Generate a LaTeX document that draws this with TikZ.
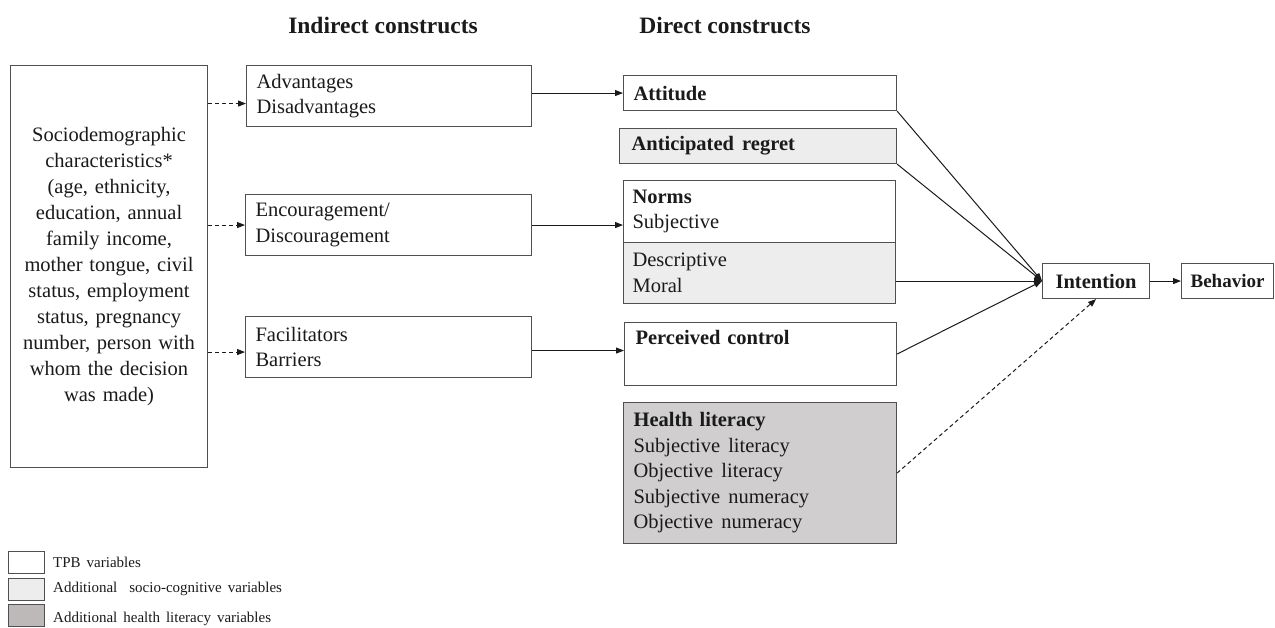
\documentclass[tikz,border=0pt]{standalone}
\usepackage{fontspec}
\setmainfont{Liberation Serif}
\usetikzlibrary{arrows.meta}
\definecolor{lg}{HTML}{EDEDED}
\definecolor{mg}{HTML}{D0CECE}
\definecolor{dg}{HTML}{BDB9B9}
\definecolor{ln}{HTML}{505050}
\definecolor{tx}{HTML}{1A1A1A}
\newcommand{\wsp}{\hspace{0.4em}}
\begin{document}
\begin{tikzpicture}[x=1pt,y=-1pt,
  box/.style={draw=ln, line width=1.1pt, rectangle, anchor=north west, inner xsep=10pt, inner ysep=0pt,
    align=left, font=\fontsize{20.5}{25.5}\selectfont, text=tx},
  cbox/.style={draw=ln, line width=1.1pt, rectangle, anchor=north west, inner sep=0pt, align=center,
    font=\fontsize{20.5}{25}\selectfont\bfseries, text=tx},
  head/.style={font=\fontsize{23.5}{28}\selectfont\bfseries, text=tx},
  legbox/.style={draw=ln, line width=1pt, rectangle, anchor=north west, minimum width=36pt, minimum height=22pt, inner sep=0pt},
  legtext/.style={anchor=west, inner sep=0pt, font=\fontsize{15}{16}\selectfont, text=tx},
  arr/.style={draw=tx, line width=1pt, -{Triangle[length=8pt,width=6pt]}},
  darr/.style={draw=tx, line width=1pt, dash pattern=on 4pt off 3pt, -{Triangle[length=8pt,width=6pt]}},
]
\useasboundingbox (0,0) rectangle (1275,628);

% headers
\node[head] (hind) at (383,25) {Indirect constructs};
\node[head] (hdir) at (725,25) {Direct constructs};

% sociodemographic
\node[draw=ln, line width=1.1pt, rectangle, anchor=north west, minimum width=197pt, minimum height=402pt,
  text width=185pt, inner sep=0pt, align=center, font=\fontsize{20.5}{26}\selectfont, text=tx] (socio) at (10,65)
  {Sociodemographic\\characteristics*\\(age, ethnicity,\\education, annual\\family income,\\mother tongue, civil\\status, employment\\status, pregnancy\\number, person with\\whom the decision\\was made)};

% indirect
\node[box, minimum width=285pt, text width=265pt, minimum height=61pt] (adv) at (246,65) {Advantages\\Disadvantages};
\node[box, minimum width=286pt, text width=266pt, minimum height=61pt] (enc) at (245,194) {Encouragement/\\Discouragement};
\node[box, minimum width=286pt, text width=266pt, minimum height=61pt] (fac) at (245,316) {Facilitators\\Barriers};

% direct
\node[box, minimum width=273pt, text width=253pt, minimum height=35pt] (att) at (623,75) {\textbf{Attitude}};
\node[box, fill=lg, minimum width=277pt, text width=253pt, minimum height=35pt, inner xsep=12pt] (ar) at (619,128) {\textbf{Anticipated\wsp regret}};
\node[box, minimum width=272pt, text width=254pt, minimum height=62pt, inner xsep=9pt] (norms) at (623,180) {\textbf{Norms}\\Subjective};
\node[box, fill=lg, minimum width=272pt, text width=254pt, minimum height=61pt, inner xsep=9pt] (normslow) at (623,242) {Descriptive\\Moral};
\node[box, minimum width=272pt, text width=250pt, minimum height=63pt, inner xsep=11pt] (pc) at (624,322) {\textbf{Perceived control}\\\strut};
\node[box, fill=mg, minimum width=273pt, text width=253pt, minimum height=141pt] (hl) at (623,402)
  {\textbf{Health literacy}\\Subjective\wsp literacy\\Objective\wsp literacy\\Subjective\wsp numeracy\\Objective\wsp numeracy};

% outcome
\node[cbox, minimum width=107pt, minimum height=35pt] (int) at (1042,263) {Intention};
\node[cbox, minimum width=92pt, minimum height=35pt, font=\fontsize{19}{23}\selectfont\bfseries] (beh) at (1181,263) {Behavior};

% legend
\node[legbox] (l1) at (8,551) {};
\node[legbox, fill=lg] (l2) at (8,578) {};
\node[legbox, fill=dg] (l3) at (8,604) {};
\node[legtext] (t1) at (53,562) {TPB\wsp variables};
\node[legtext] (t2) at (53,589) {Additional\hspace{0.8em}socio-cognitive\wsp variables};
\node[legtext] (t3) at (53,619) {Additional\wsp health\wsp literacy\wsp variables};

% dashed arrows from sociodemographics
\coordinate (a1) at ([yshift=-7.5pt]adv.west);
\coordinate (a3) at ([yshift=-5pt]fac.west);
\draw[darr] (socio.east |- a1) -- (a1);
\draw[darr] (socio.east |- enc.west) -- (enc.west);
\draw[darr] (socio.east |- a3) -- (a3);

% indirect to direct
\draw[arr] (adv.east |- att.west) -- (att.west);
\draw[arr] (enc.east) -- (norms.west |- enc.east);
\coordinate (f1) at ([yshift=-3.5pt]fac.east);
\draw[arr] (f1) -- (pc.west |- f1);

% direct to intention
\draw[arr] (att.south east) -- (int.west);
\draw[arr] (ar.south east) -- (int.west);
\draw[arr] (normslow.east |- int.west) -- (int.west);
\draw[arr] (pc.east) -- (int.west);
\draw[darr] (hl.east) -- (int.south);
\draw[arr] (int.east) -- (beh.west);
\end{tikzpicture}
\end{document}
